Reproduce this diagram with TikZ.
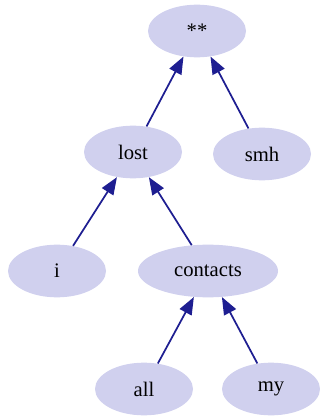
\documentclass[tikz,border=0pt]{standalone}
\usepackage{fontspec}
\setmainfont{Liberation Serif}
\usetikzlibrary{shapes.geometric,arrows.meta}
\definecolor{wordfill}{RGB}{208,208,238}
\definecolor{wordedge}{RGB}{30,30,145}
\begin{document}
\begin{tikzpicture}[x=0.75pt,y=-0.75pt,
        word/.style={ellipse, fill=wordfill, inner sep=0pt,
            minimum width=73.5pt, minimum height=39.5pt,
            font=\fontsize{15.5}{18}\selectfont},
        link/.style={wordedge, line width=1.3pt,
            -{Triangle[length=13pt,width=10pt]}}]
        \useasboundingbox (0,0) rectangle (320,417);
        \node[word] (root) at (197,31) {**};
        \node[word] (lost) at (133,152) {lost};
        \node[word] (smh) at (262,154) {smh};
        \node[word] (i) at (57,271) {i};
        \node[word, minimum width=105pt] (contacts) at (208,271) {contacts};
        \node[word] (all) at (144,389) {all};
        \node[word] (my) at (271,389) {my};
        \draw[link] (lost) -- (root);
        \draw[link] (smh) -- (root);
        \draw[link] (i) -- (lost);
        \draw[link] (contacts) -- (lost);
        \draw[link] (all) -- (contacts);
        \draw[link] (my) -- (contacts);
    \end{tikzpicture}
\end{document}
